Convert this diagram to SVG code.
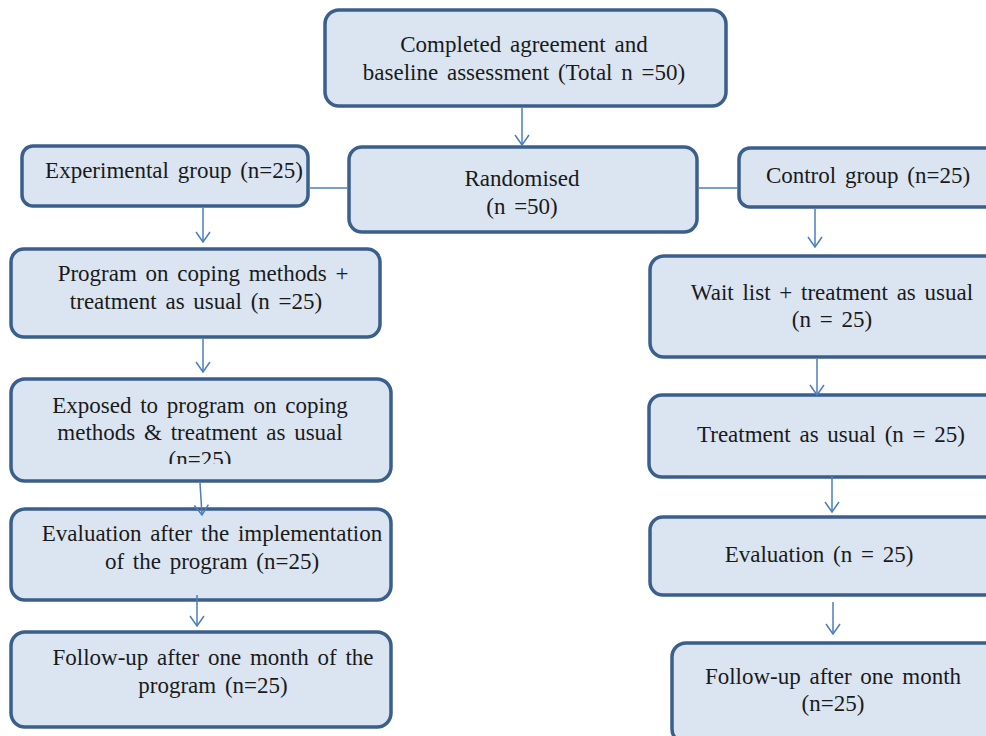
<svg xmlns="http://www.w3.org/2000/svg" width="986" height="736" viewBox="0 0 986 736">
<defs>
<style>
.box{fill:#dbe5f1;stroke:#3b5f8c;stroke-width:3.5}
.t{font-family:"Liberation Serif",Tinos,"Noto Serif","DejaVu Serif",FreeSerif,"Times New Roman",Times,serif;font-size:23px;fill:#1a1a1a;text-anchor:middle;word-spacing:3px}
.c{stroke:#4a7ebb;stroke-width:1.5;fill:none}
</style>
<marker id="ah" markerWidth="12" markerHeight="16" refX="11" refY="8" orient="auto" markerUnits="userSpaceOnUse" viewBox="0 0 12 16">
<path d="M1,1 L11,8 L1,15" fill="none" stroke="#4a7ebb" stroke-width="1.5"/>
</marker>
<clipPath id="clipExp"><rect x="10" y="378" width="382" height="86"/></clipPath>
</defs>
<rect width="986" height="736" fill="#ffffff"/>
<g id="baseline">
<rect class="box" x="325" y="10" width="401" height="96" rx="14"/>
<text class="t" x="524" y="52">Completed agreement and</text>
<text class="t" x="524" y="80">baseline assessment (Total  n =50)</text>
</g>
<g id="randomised">
<rect class="box" x="349" y="147" width="348" height="85" rx="13"/>
<text class="t" x="522" y="186">Randomised</text>
<text class="t" x="522" y="214">(n =50)</text>
</g>
<g id="experimental">
<rect class="box" x="22" y="146" width="286" height="60" rx="11"/>
<text class="t" x="174" y="178">Experimental group (n=25)</text>
</g>
<g id="control">
<rect class="box" x="739" y="148" width="262" height="59" rx="11"/>
<text class="t" x="868" y="183">Control group (n=25)</text>
</g>
<g id="program">
<rect class="box" x="11" y="249" width="369" height="88" rx="13"/>
<text class="t" x="203" y="281">Program on coping methods +</text>
<text class="t" x="196" y="309">treatment as usual (n =25)</text>
</g>
<g id="waitlist">
<rect class="box" x="650" y="256" width="350" height="101" rx="14"/>
<text class="t" x="832" y="300">Wait list + treatment as usual</text>
<text class="t" x="832" y="327">(n = 25)</text>
</g>
<g id="exposed">
<rect class="box" x="11" y="379" width="380" height="102" rx="14"/>
<text class="t" x="200" y="413">Exposed to program on coping</text>
<text class="t" x="200" y="440">methods &amp; treatment as usual</text>
<text class="t" x="200" y="467" clip-path="url(#clipExp)">(n=25)</text>
</g>
<g id="eval-left">
<rect class="box" x="11" y="509" width="380" height="91" rx="14"/>
<text class="t" x="212" y="541">Evaluation  after the implementation</text>
<text class="t" x="212" y="569">of the program (n=25)</text>
</g>
<g id="followup-left">
<rect class="box" x="11" y="632" width="380" height="95" rx="14"/>
<text class="t" x="213" y="665">Follow-up  after one month of the</text>
<text class="t" x="213" y="693">program (n=25)</text>
</g>
<g id="treatment">
<rect class="box" x="649" y="395" width="350" height="82" rx="13"/>
<text class="t" x="831" y="442">Treatment as usual (n = 25)</text>
</g>
<g id="eval-right">
<rect class="box" x="650" y="517" width="350" height="78" rx="13"/>
<text class="t" x="819" y="562">Evaluation  (n = 25)</text>
</g>
<g id="followup-right">
<rect class="box" x="672" y="643" width="330" height="100" rx="14"/>
<text class="t" x="833" y="684">Follow-up  after one month</text>
<text class="t" x="833" y="711">(n=25)</text>
</g>
<g id="connectors">
<line class="c" x1="522" y1="108" x2="522" y2="145" marker-end="url(#ah)"/>
<line class="c" x1="310" y1="188" x2="347" y2="188"/>
<line class="c" x1="699" y1="188" x2="737" y2="188"/>
<line class="c" x1="203" y1="208" x2="203" y2="242" marker-end="url(#ah)"/>
<line class="c" x1="815" y1="209" x2="815" y2="247" marker-end="url(#ah)"/>
<line class="c" x1="203" y1="339" x2="203" y2="372" marker-end="url(#ah)"/>
<line class="c" x1="200" y1="483" x2="202" y2="515" marker-end="url(#ah)"/>
<line class="c" x1="197" y1="595" x2="197" y2="626" marker-end="url(#ah)"/>
<line class="c" x1="817" y1="359" x2="817" y2="395" marker-end="url(#ah)"/>
<line class="c" x1="832" y1="475" x2="832" y2="512" marker-end="url(#ah)"/>
<line class="c" x1="833" y1="602" x2="833" y2="634" marker-end="url(#ah)"/>
</g>
</svg>
